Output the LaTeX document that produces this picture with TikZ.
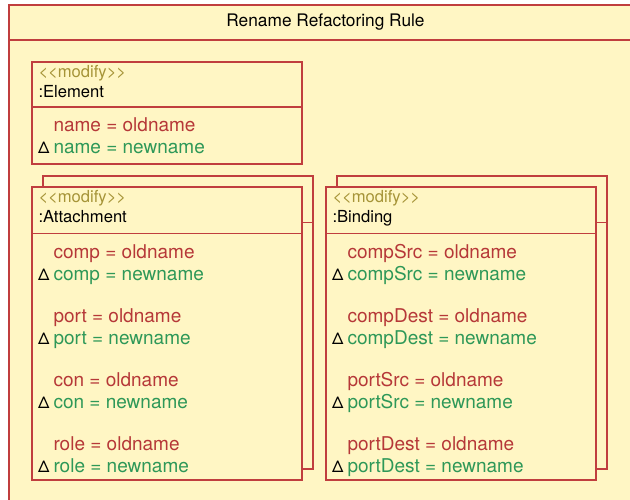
\documentclass[tikz,border=0pt]{standalone}
\usepackage{fontspec}
\setmainfont{TeX Gyre Heros}
\definecolor{paper}{RGB}{255,246,196}
\definecolor{frameRed}{RGB}{192,62,62}
\definecolor{oldRed}{RGB}{182,56,56}
\definecolor{newGreen}{RGB}{46,152,88}
\definecolor{stereo}{RGB}{166,148,56}

% stereotype text; the kerns keep each pair of angle brackets from becoming a guillemet
\newcommand\modifytag{<\kern0pt<modify>\kern0pt>}

% attribute change: the old value in red, the new one in green marked with a delta
\newcommand\attrchange[4]{% #1 box left, #2 baseline, #3 attribute, #4 node prefix
  \node[oldattr] (#4old) at (#1+21.5,#2) {#3 = oldname};
  \node[deltamark] (#4delta) at (#1+6,#2+22) {Δ};
  \node[newattr] (#4new) at (#1+21.5,#2+22) {#3 = newname};
}

\begin{document}
\begin{tikzpicture}[x=1pt,y=-1pt,
  frameline/.style={draw=frameRed,line width=1.4pt},
  objbox/.style={frameline,fill=paper,rectangle,inner sep=0pt,outer sep=0pt,
    anchor=north west,minimum width=270pt},
  txt/.style={inner sep=0pt,outer sep=0pt,anchor=base west},
  stereotype/.style={txt,text=stereo,font=\fontsize{16.6}{20}\selectfont},
  classname/.style={txt,text=black,font=\fontsize{16.6}{20}\selectfont},
  oldattr/.style={txt,text=oldRed,font=\fontsize{19}{22}\selectfont},
  newattr/.style={txt,text=newGreen,font=\fontsize{19}{22}\selectfont},
  deltamark/.style={txt,text=black,font=\fontsize{16}{20}\selectfont}]

\useasboundingbox (0,0) rectangle (630,499);
\clip (0,0) rectangle (630,499);
\fill[white] (0,0) rectangle (630,499);

% rule frame with its title compartment
\node[frameline,fill=paper,rectangle,inner sep=0pt,outer sep=0pt,anchor=north west,
  minimum width=660pt,minimum height=540pt] (rule) at (9,5) {};
\draw[frameline] ([yshift=-35pt]rule.north west) -- ([yshift=-35pt]rule.north east);
\node[inner sep=0pt,font=\fontsize{17.3}{20}\selectfont] (title) at (325.5,22) {Rename Refactoring Rule};

% :Element
\node[objbox,minimum height=102pt] (element) at (32,62) {};
\draw[frameline] ([yshift=-45pt]element.north west) -- ([yshift=-45pt]element.north east);
\node[stereotype] (elementStereo) at (38.5,77) {\modifytag};
\node[classname] (elementName) at (38.5,97) {:Element};
\attrchange{32}{131}{name}{elName}

% :Attachment (multi-object)
\node[objbox,minimum height=293pt] (attachBack) at (43,176) {};
\draw[frameline] ([yshift=-46.5pt]attachBack.north west) -- ([yshift=-46.5pt]attachBack.north east);
\node[objbox,minimum height=293pt] (attach) at (32,187) {};
\draw[frameline] ([yshift=-46.5pt]attach.north west) -- ([yshift=-46.5pt]attach.north east);
\node[stereotype] (attachStereo) at (38.5,202) {\modifytag};
\node[classname] (attachName) at (38.5,222) {:Attachment};
\attrchange{32}{258}{comp}{atComp}
\attrchange{32}{322}{port}{atPort}
\attrchange{32}{386}{con}{atCon}
\attrchange{32}{450}{role}{atRole}

% :Binding (multi-object)
\node[objbox,minimum height=293pt] (bindBack) at (337,176) {};
\draw[frameline] ([yshift=-46.5pt]bindBack.north west) -- ([yshift=-46.5pt]bindBack.north east);
\node[objbox,minimum height=293pt] (bind) at (326,187) {};
\draw[frameline] ([yshift=-46.5pt]bind.north west) -- ([yshift=-46.5pt]bind.north east);
\node[stereotype] (bindStereo) at (332.5,202) {\modifytag};
\node[classname] (bindName) at (332.5,222) {:Binding};
\attrchange{326}{258}{compSrc}{biCompSrc}
\attrchange{326}{322}{compDest}{biCompDest}
\attrchange{326}{386}{portSrc}{biPortSrc}
\attrchange{326}{450}{portDest}{biPortDest}

\end{tikzpicture}
\end{document}
